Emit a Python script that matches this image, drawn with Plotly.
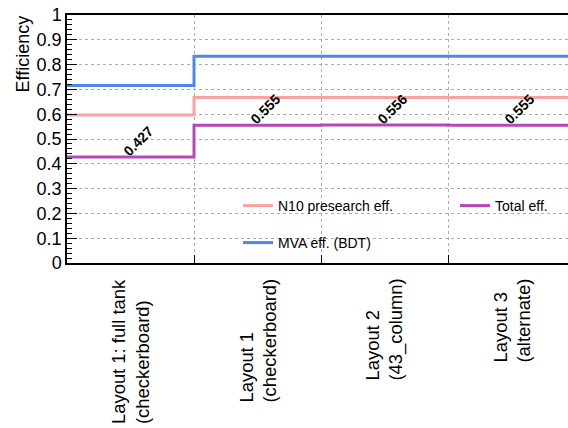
import plotly.graph_objects as go

# ---- data ----
categories = [
    "Layout 1: full tank<br>(checkerboard)",
    "Layout 1<br>(checkerboard)",
    "Layout 2<br>(43_column)",
    "Layout 3<br>(alternate)",
]
n10_eff = [0.597, 0.667, 0.667, 0.667]
total_eff = [0.427, 0.555, 0.556, 0.555]
mva_eff = [0.716, 0.834, 0.834, 0.834]
y_tickvals = [0, 0.1, 0.2, 0.3, 0.4, 0.5, 0.6, 0.7, 0.8, 0.9, 1]
y_ticktext = ["0", "0.1", "0.2", "0.3", "0.4", "0.5", "0.6", "0.7", "0.8", "0.9", "1"]

FONT = "Liberation Sans, Arial, Helvetica, sans-serif"
W, H = 568, 428
ML, MT, MB = 67, 15, 165
plot_w = W - ML
plot_h = H - MT - MB
bin_px = 127.0
x_max = plot_w / bin_px

nb = len(categories)
edges = list(range(nb + 1))
centers = [i + 0.5 for i in range(nb)]


def step_y(vals):
    return list(vals) + [vals[-1]]


def px_x(px):
    return (px - ML) / plot_w


def px_y(py):
    return (H - MB - py) / plot_h


fig = go.Figure()
fig.add_trace(go.Scatter(
    x=edges, y=step_y(n10_eff), mode="lines", line_shape="hv",
    line=dict(color="#f8a3a3", width=3), name="N10 presearch eff.",
    legend="legend", showlegend=True,
))
fig.add_trace(go.Scatter(
    x=edges, y=step_y(total_eff), mode="lines", line_shape="hv",
    line=dict(color="#b746b7", width=3), name="Total eff.",
    legend="legend2", showlegend=True,
))
fig.add_trace(go.Scatter(
    x=edges, y=step_y(mva_eff), mode="lines", line_shape="hv",
    line=dict(color="#4f85ee", width=3), name="MVA eff. (BDT)",
    legend="legend3", showlegend=True,
))

annotations = []
# bin-content labels (TEXT45 style)
for c, v in zip(centers, total_eff):
    annotations.append(dict(
        x=c, y=v, xref="x", yref="y", text="<b>%.3f</b>" % v,
        textangle=-45, showarrow=False, xanchor="center", yanchor="middle",
        xshift=8, yshift=16, font=dict(family=FONT, size=14, color="black"),
    ))
# category labels (vertical, lines aligned at their start)
for c, lab in zip(centers, categories):
    annotations.append(dict(
        x=c, y=px_y(277), xref="x", yref="paper", text=lab,
        textangle=-90, showarrow=False, xanchor="center", yanchor="top",
        align="left", font=dict(family=FONT, size=18.4, color="black"),
    ))
annotations.append(dict(
    x=px_x(22.5), y=px_y(54), xref="paper", yref="paper", text="Efficiency",
    textangle=-90, showarrow=False, xanchor="center", yanchor="middle",
    font=dict(family=FONT, size=18, color="black"),
))

leg_common = dict(
    orientation="h", xanchor="left", yanchor="middle",
    bgcolor="rgba(0,0,0,0)", borderwidth=0,
    font=dict(family=FONT, size=14, color="black"),
)

fig.update_layout(
    width=W, height=H, showlegend=True,
    margin=dict(l=ML, r=0, t=MT, b=MB, pad=0, autoexpand=False),
    paper_bgcolor="white", plot_bgcolor="white",
    font=dict(family=FONT, color="black"),
    annotations=annotations,
    legend=dict(x=px_x(238), y=px_y(206), **leg_common),
    legend2=dict(x=px_x(455), y=px_y(206), **leg_common),
    legend3=dict(x=px_x(238), y=px_y(243), **leg_common),
)

fig.update_xaxes(
    range=[0, x_max], tickmode="array", tickvals=centers, ticktext=[""] * nb,
    showticklabels=False, ticks="", showgrid=False, zeroline=False, automargin=False,
    showline=True, linecolor="black", linewidth=1.5, mirror=True,
    minor=dict(tickmode="array", tickvals=[1, 2, 3], ticks="inside", ticklen=8,
               tickcolor="black", tickwidth=1, showgrid=True,
               gridcolor="#a8acb8", griddash="dot", gridwidth=1),
)
fig.update_yaxes(
    range=[0, 1], tickmode="array", tickvals=y_tickvals, ticktext=y_ticktext,
    ticks="inside", ticklen=10, tickcolor="black", tickwidth=1, automargin=False,
    showgrid=True, gridcolor="#a8acb8", griddash="dot", gridwidth=1,
    zeroline=False, showline=True, linecolor="black", linewidth=1.5, mirror=False,
    tickfont=dict(family=FONT, size=18, color="black"),
    minor=dict(dtick=0.02, tick0=0, ticks="inside", ticklen=5, tickcolor="black",
               tickwidth=1, showgrid=False),
)

fig.write_html("out.html", config={"displayModeBar": False},
               post_script="document.body.style.margin='0';")
